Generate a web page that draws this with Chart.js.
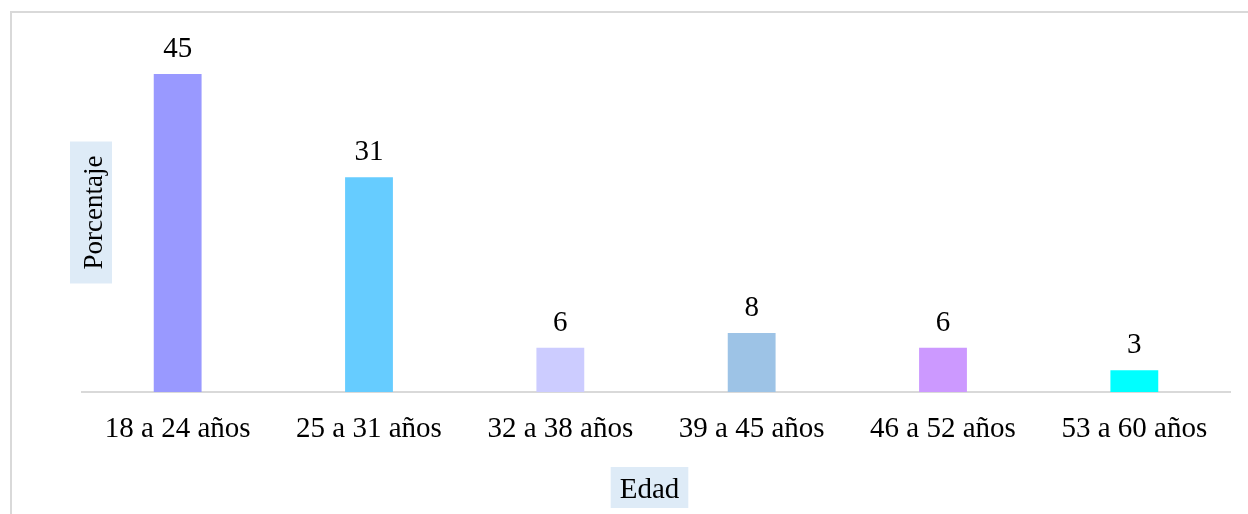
<!DOCTYPE html>
<html>
<head>
<meta charset="utf-8">
<script src="https://cdn.jsdelivr.net/npm/chart.js@4.4.1/dist/chart.umd.min.js"></script>
<style>
  html, body { margin: 0; padding: 0; background: #ffffff; }
  #wrap { width: 1248px; height: 514px; position: relative; }
</style>
</head>
<body>
<div id="wrap"><canvas id="c" width="1248" height="514"></canvas></div>
<script>
const categories = ["18 a 24 años", "25 a 31 años", "32 a 38 años", "39 a 45 años", "46 a 52 años", "53 a 60 años"];
const percentages = [45.3, 30.6, 6.3, 8.4, 6.3, 3.1];
const barColors = ["#9999ff", "#66ccff", "#ccccff", "#9dc3e6", "#cc99ff", "#00ffff"];
const xTitle = "Edad";
const yTitle = "Porcentaje";

const FONT = "'Liberation Serif', 'Times New Roman', serif";

const framePlugin = {
  id: 'frame',
  beforeDraw(chart) {
    const ctx = chart.ctx;
    ctx.save();
    ctx.fillStyle = '#ffffff';
    ctx.fillRect(0, 0, chart.width, chart.height);
    ctx.strokeStyle = '#d9d9d9';
    ctx.lineWidth = 2;
    ctx.strokeRect(11, 12, chart.width + 100, chart.height + 100);
    ctx.restore();
  }
};

const labelPlugin = {
  id: 'valueLabels',
  afterDatasetsDraw(chart) {
    const ctx = chart.ctx;
    const meta = chart.getDatasetMeta(0);
    ctx.save();
    ctx.font = "29px " + FONT;
    ctx.fillStyle = '#000000';
    ctx.textAlign = 'center';
    ctx.textBaseline = 'alphabetic';
    meta.data.forEach((el, i) => {
      const v = chart.data.datasets[0].data[i];
      ctx.fillText(String(Math.round(v)), el.x, el.y - 17);
    });
    ctx.restore();
  }
};

const titlesPlugin = {
  id: 'axisTitles',
  afterDraw(chart) {
    const ctx = chart.ctx;
    const area = chart.chartArea;
    ctx.save();
    // X title
    ctx.font = "29px " + FONT;
    const cx = (area.left + area.right) / 2 - 6.5;
    const tw = ctx.measureText(xTitle).width;
    ctx.fillStyle = '#deebf7';
    ctx.fillRect(cx - tw / 2 - 9, area.bottom + 75, tw + 18, 41);
    ctx.fillStyle = '#000000';
    ctx.textAlign = 'center';
    ctx.textBaseline = 'alphabetic';
    ctx.fillText(xTitle, cx, area.bottom + 106);
    // Y title
    ctx.font = "27px " + FONT;
    const yw = ctx.measureText(yTitle).width;
    const cy = 212.5;
    ctx.fillStyle = '#deebf7';
    ctx.fillRect(area.left - 12, cy - yw / 2 - 14, 42, yw + 28);
    ctx.translate(area.left + 20, cy);
    ctx.rotate(-Math.PI / 2);
    ctx.fillStyle = '#000000';
    ctx.textAlign = 'center';
    ctx.textBaseline = 'alphabetic';
    ctx.fillText(yTitle, 0, 0);
    ctx.restore();
  }
};

new Chart(document.getElementById('c'), {
  type: 'bar',
  data: {
    labels: categories,
    datasets: [{
      data: percentages,
      backgroundColor: barColors,
      borderWidth: 0,
      barPercentage: 0.25,
      categoryPercentage: 1.0
    }]
  },
  options: {
    responsive: false,
    animation: false,
    devicePixelRatio: 1,
    layout: { padding: { left: 82, right: 18, top: 41, bottom: 0 } },
    plugins: {
      legend: { display: false },
      tooltip: { enabled: false },
      title: { display: false }
    },
    scales: {
      x: {
        grid: { display: false, drawTicks: false },
        border: { display: true, color: '#d9d9d9', width: 2 },
        ticks: {
          color: '#000000',
          font: { family: FONT, size: 29 },
          padding: 20,
          maxRotation: 0,
          autoSkip: false
        },
        afterFit(scale) { scale.height = 122; }
      },
      y: {
        display: false,
        min: 0,
        max: 50
      }
    }
  },
  plugins: [framePlugin, labelPlugin, titlesPlugin]
});
</script>
</body>
</html>
